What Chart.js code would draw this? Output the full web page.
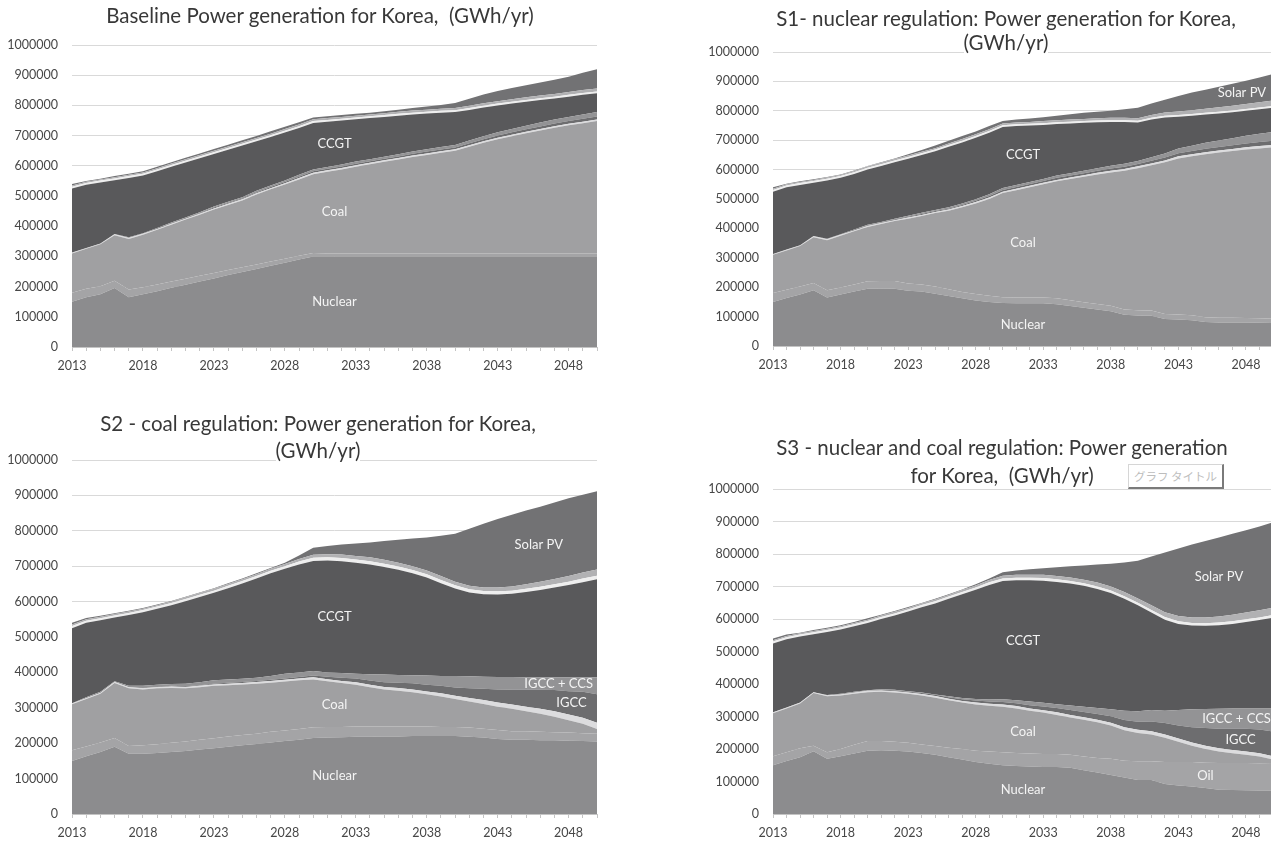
<!DOCTYPE html>
<html lang="en">
<head>
<meta charset="UTF-8">
<title>Power generation for Korea</title>
<script src="https://cdn.jsdelivr.net/npm/chart.js"></script>
<style>
  body { margin: 0; background: #fff; }
  #page { position: relative; width: 1271px; height: 846px; overflow: hidden; font-family: Lato, "Liberation Sans", sans-serif; }
  #page canvas { position: absolute; }
  .title { position: absolute; text-align: center; color: #383838; font-size: 20.5px; white-space: pre; }
  .title span { background: #fff; }
  .jp-box {
    position: absolute; left: 1128px; top: 464px; width: 96px; height: 25px; box-sizing: border-box;
    border: 1px solid #d6d6d6; border-right: 2px solid #7a7a7a; border-bottom: 2px solid #7a7a7a;
    background: #fff; color: #bdbdbd; font: 11.5px "Noto Sans CJK JP"; line-height: 22px; padding-left: 5px;
  }
</style>
</head>
<body>
<div id="page">
  <canvas id="chartBase" width="640" height="385" style="left:0;top:0"></canvas>
  <canvas id="chartS1" width="610" height="385" style="left:701px;top:0"></canvas>
  <canvas id="chartS2" width="640" height="446" style="left:0;top:400px"></canvas>
  <canvas id="chartS3" width="610" height="446" style="left:701px;top:400px"></canvas>

  <div class="title" style="left:0;width:640px;top:3px;line-height:24px">Baseline Power generation for Korea,  (GWh/yr)</div>
  <div class="title" style="left:701px;width:610px;top:6px;line-height:24px">S1- nuclear regulation: Power generation for Korea,
<span>(GWh/yr)</span></div>
  <div class="title" style="left:0;width:636px;top:410px;line-height:27px">S2 - coal regulation: Power generation for Korea,
<span>(GWh/yr)</span></div>
  <div class="title" style="left:701px;width:602px;top:433px;line-height:28px">S3 - nuclear and coal regulation: Power generation
for Korea,  (GWh/yr)</div>
  <div class="jp-box">グラフ タイトル</div>
</div>

<script>
// years on the category axis, and the ones that get a label
const years = ['2013','2014','2015','2016','2017','2018','2019','2020','2021','2022',
               '2023','2024','2025','2026','2027','2028','2029','2030','2031','2032',
               '2033','2034','2035','2036','2037','2038','2039','2040','2041','2042',
               '2043','2044','2045','2046','2047','2048','2049','2050'];
const yearLabels = ['2013','2018','2023','2028','2033','2038','2043','2048'];

// stacking order, bottom to top
const seriesNames = ['Nuclear','Oil','Coal','Other thermal','IGCC','IGCC + CCS','CCGT','Hydro','Wind','Solar PV'];
const seriesColors = ['#8c8c8e','#a4a4a6','#a0a0a2','#dcdcde','#6d6d6f','#939395','#59595b','#eeeeee','#b1b1b3','#727274'];

// Baseline (GWh/yr)
const baseNuclear = [150000,165000,175000,195000,165000,175000,185000,196000,206000,217000,227000,238000,248000,258000,269000,279000,290000,300000,300000,300000,300000,300000,300000,300000,300000,300000,300000,300000,300000,300000,300000,300000,300000,300000,300000,300000,300000,300000];
const baseOil = [30000,28000,26000,24000,25000,23000,22000,21000,20000,19000,18000,17000,16000,15000,14000,13000,12000,11000,10000,10000,10000,10000,10000,10000,10000,10000,10000,10000,10000,10000,10000,10000,10000,10000,10000,10000,10000,10000];
const baseCoal = [130000,132000,139000,151000,168000,174000,181000,188000,196000,202000,210000,215000,221000,232000,239000,246000,253000,261000,270000,278000,287000,295000,303000,311000,319000,326000,333000,340000,353000,366000,378000,388000,398000,407000,416000,424000,431000,438000];
const baseOther = [2000,2000,2000,3000,3000,3000,3000,3000,3000,3000,4000,4000,4000,4000,4000,4000,5000,5000,5000,5000,5000,5000,5000,5000,5000,5000,5000,5000,5000,5000,5000,5000,5000,5000,5000,5000,5000,5000];
const baseIgcc = [1000,1000,1000,1000,1000,1000,2000,2000,2000,2000,3000,3000,3000,3000,4000,4000,4000,5000,5000,5000,5000,5000,5000,5000,6000,6000,6000,6000,7000,7000,7000,8000,8000,8000,9000,9000,10000,10000];
const baseCcs = [0,0,0,0,1000,1000,1000,2000,2000,3000,3000,4000,4000,5000,5000,5000,6000,6000,6000,6000,7000,7000,7000,7000,7000,8000,8000,8000,9000,10000,11000,11000,12000,13000,13000,14000,14000,15000];
const baseCcgt = [212000,209000,202000,178000,197000,191000,188000,185000,182000,179000,174000,172000,171000,164000,160000,159000,155000,154000,150000,146000,140000,136000,132000,128000,123000,118000,114000,109000,101000,95000,89000,84000,79000,75000,70000,67000,65000,62000];
const baseHydro = [6000,6000,6000,6000,6000,6000,6000,6000,6000,6000,6000,6000,6000,6000,6000,6000,6000,6000,6000,6000,6000,6000,6000,6000,6000,6000,6000,6000,6000,6000,6000,6000,6000,6000,6000,6000,6000,6000];
const baseWind = [4000,4000,4000,4000,4000,4000,4000,5000,5000,5000,5000,5000,5000,5000,5000,6000,6000,6000,6000,6000,6000,6000,6000,7000,7000,7000,7000,7000,8000,8000,8000,8000,9000,9000,9000,9000,10000,10000];
const baseSolar = [5000,3000,2000,4000,4000,4000,5000,4000,5000,5000,6000,6000,7000,7000,8000,7000,7000,6000,6000,6000,6000,6000,7000,7000,8000,10000,12000,17000,23000,29000,34000,38000,40000,43000,47000,51000,57000,64000];

// S1 - nuclear regulation
const s1Nuclear = [150000,163000,175000,190000,165000,175000,185000,195000,196000,195000,188000,185000,178000,170000,162000,155000,150000,146000,145000,145000,145000,142000,136000,130000,124000,118000,106000,104000,103000,92000,90000,88000,82000,80000,80000,80000,79000,78000];
const s1Oil = [30000,28000,27000,24000,25000,24000,24000,25000,25000,26000,25000,24000,24000,23000,22000,22000,21000,20000,20000,20000,20000,20000,20000,19000,19000,19000,18000,18000,18000,17000,17000,17000,16000,16000,16000,15000,15000,15000];
const s1Coal = [130000,134000,138000,156000,170000,176000,181000,185000,194000,204000,220000,233000,250000,267000,288000,308000,329000,354000,365000,375000,385000,398000,412000,427000,440000,453000,472000,483000,494000,516000,531000,540000,554000,562000,567000,573000,578000,583000];
const s1Other = [2000,2000,2000,3000,3000,3000,3000,3000,3000,3000,4000,4000,4000,4000,4000,5000,5000,5000,5000,5000,5000,5000,5000,5000,6000,6000,6000,6000,6000,6000,7000,7000,7000,7000,7000,8000,8000,8000];
const s1Igcc = [1000,1000,1000,1000,1000,1000,2000,2000,2000,2000,3000,3000,3000,3000,4000,4000,5000,6000,6000,6000,6000,7000,7000,7000,7000,8000,8000,8000,9000,10000,11000,11000,12000,12000,13000,13000,14000,14000];
const s1Ccs = [0,0,0,0,1000,1000,1000,2000,2000,3000,3000,4000,4000,5000,5000,5000,6000,6000,7000,7000,7000,8000,8000,8000,9000,9000,10000,10000,12000,14000,16000,18000,20000,22000,24000,26000,28000,30000];
const s1Ccgt = [212000,212000,205000,181000,198000,192000,189000,188000,190000,192000,194000,197000,199000,206000,207000,209000,209000,208000,200000,192000,184000,175000,169000,163000,156000,149000,142000,131000,128000,122000,108000,102000,96000,92000,88000,85000,83000,82000];
const s1Hydro = [6000,6000,6000,6000,6000,6000,6000,6000,6000,6000,6000,6000,6000,6000,6000,6000,6000,6000,6000,6000,6000,6000,6000,6000,6000,6000,6000,6000,6000,6000,6000,6000,6000,6000,6000,6000,6000,6000];
const s1Wind = [4000,4000,4000,4000,4000,4000,4000,5000,5000,5000,5000,5000,5000,5000,6000,6000,6000,6000,6000,6000,7000,7000,7000,7000,8000,8000,8000,9000,10000,11000,12000,13000,14000,15000,16000,17000,18000,19000];
const s1Solar = [5000,2000,2000,2000,2000,1000,2000,1000,2000,2000,4000,6000,9000,9000,10000,10000,11000,8000,10000,12000,13000,15000,18000,21000,22000,24000,29000,35000,39000,44000,52000,60000,65000,70000,75000,79000,84000,90000];

// S2 - coal regulation
const s2Nuclear = [150000,163000,175000,190000,170000,170000,172000,175000,178000,182000,186000,190000,194000,198000,202000,206000,210000,215000,216000,217000,218000,218000,219000,219000,220000,220000,220000,220000,218000,216000,212000,210000,210000,208000,208000,207000,206000,205000];
const s2Oil = [30000,28000,27000,25000,22000,24000,25000,26000,27000,28000,28000,29000,29000,29000,30000,30000,30000,30000,30000,29000,29000,29000,28000,28000,27000,27000,26000,26000,26000,25000,25000,24000,24000,24000,23000,23000,22000,22000];
const s2Coal = [130000,134000,138000,155000,163000,158000,158000,155000,150000,148000,148000,145000,143000,141000,139000,138000,138000,135000,129000,124000,118000,111000,105000,101000,97000,91000,86000,79000,74000,70000,66000,63000,56000,51000,44000,35000,27000,13000];
const s2Other = [2000,2000,2000,3000,3000,3000,3000,4000,4000,4000,4000,4000,4000,5000,5000,5000,5000,6000,6000,6000,7000,7000,7000,8000,8000,8000,9000,9000,10000,11000,12000,12000,13000,14000,15000,16000,17000,18000];
const s2Igcc = [0,0,0,0,0,1000,1000,2000,2000,2000,2000,3000,3000,3000,3000,4000,4000,5000,7000,9000,11000,12000,13000,15000,17000,19000,21000,23000,27000,32000,37000,42000,48000,54000,60000,66000,73000,80000];
const s2Ccs = [1000,3000,3000,2000,4000,6000,6000,5000,7000,8000,10000,9000,9000,9000,11000,13000,13000,13000,12000,13000,13000,18000,22000,22000,23000,26000,28000,33000,34000,34000,35000,36000,35000,35000,36000,39000,41000,48000];
const s2Ccgt = [212000,210000,202000,180000,200000,208000,215000,223000,233000,241000,247000,258000,269000,280000,290000,297000,305000,311000,316000,316000,314000,310000,304000,297000,288000,277000,262000,247000,237000,233000,233000,235000,241000,247000,254000,261000,269000,277000];
const s2Hydro = [6000,6000,6000,6000,6000,6000,6000,6000,6000,6000,6000,7000,7000,7000,7000,7000,8000,9000,9000,9000,9000,9000,9000,9000,9000,9000,9000,9000,9000,9000,9000,9000,9000,9000,9000,9000,10000,10000];
const s2Wind = [4000,4000,4000,4000,4000,4000,4000,4000,5000,5000,5000,5000,5000,5000,6000,6000,7000,8000,9000,10000,10000,11000,11000,11000,11000,11000,11000,10000,10000,10000,11000,12000,13000,14000,15000,16000,17000,18000];
const s2Solar = [5000,4000,3000,2000,2000,2000,2000,2000,2000,2000,2000,2000,2000,3000,2000,4000,10000,20000,23000,28000,35000,42000,53000,65000,78000,93000,114000,136000,161000,180000,193000,202000,208000,212000,216000,220000,220000,221000];

// S3 - nuclear and coal regulation
const s3Nuclear = [150000,163000,175000,193000,170000,178000,186000,195000,196000,195000,192000,188000,182000,175000,168000,160000,155000,150000,148000,146000,145000,145000,142000,135000,128000,120000,112000,105000,105000,92000,88000,85000,80000,75000,74000,73000,72000,72000];
const s3Oil = [28000,27000,27000,17000,20000,22000,27000,30000,29000,27000,27000,26000,27000,29000,32000,35000,37000,40000,40000,40000,40000,40000,40000,42000,44000,50000,52000,57000,57000,68000,72000,75000,78000,82000,83000,84000,84000,85000];
const s3Coal = [132000,135000,138000,162000,172000,165000,157000,150000,151000,152000,151000,151000,149000,146000,143000,142000,141000,140000,137000,132000,127000,120000,115000,113000,110000,102000,94000,87000,83000,75000,62000,50000,42000,35000,30000,25000,21000,11000];
const s3Other = [2000,2000,2000,3000,3000,3000,3000,4000,4000,4000,4000,4000,5000,5000,5000,6000,6000,7000,7000,7000,7000,8000,8000,8000,8000,9000,9000,10000,10000,10000,10000,10000,10000,10000,10000,10000,10000,10000];
const s3Igcc = [0,0,0,0,0,1000,1000,1000,2000,2000,2000,3000,4000,4000,5000,6000,7000,8000,9000,10000,12000,13000,15000,16000,18000,20000,22000,25000,30000,35000,40000,47000,55000,60000,65000,70000,73000,76000];
const s3Ccs = [1000,1000,1000,0,1000,1000,2000,1000,2000,2000,2000,2000,1000,3000,4000,5000,6000,8000,9000,11000,11000,12000,14000,16000,18000,21000,29000,32000,35000,38000,48000,55000,58000,62000,63000,63000,65000,71000];
const s3Ccgt = [212000,210000,203000,178000,194000,198000,202000,207000,216000,229000,245000,262000,280000,300000,319000,336000,353000,364000,369000,373000,376000,376000,375000,372000,366000,358000,344000,326000,300000,280000,265000,258000,256000,257000,260000,266000,272000,279000];
const s3Hydro = [6000,6000,6000,6000,6000,6000,6000,6000,6000,6000,6000,7000,7000,7000,7000,7000,8000,8000,8000,8000,8000,8000,8000,8000,8000,8000,8000,8000,8000,8000,8000,8000,8000,8000,8000,8000,8000,8000];
const s3Wind = [4000,4000,4000,4000,4000,4000,4000,4000,5000,5000,5000,5000,5000,5000,6000,6000,7000,8000,9000,9000,10000,10000,11000,11000,12000,12000,13000,13000,14000,15000,16000,17000,18000,19000,20000,21000,22000,23000];
const s3Solar = [5000,4000,2000,3000,3000,3000,3000,4000,2000,3000,3000,1000,2000,2000,2000,4000,5000,11000,13000,17000,20000,27000,34000,44000,56000,70000,91000,116000,150000,184000,208000,224000,235000,243000,249000,253000,258000,263000];

Chart.defaults.font.family = 'Lato';

// writes the technology name in the middle of its band
const areaLabelPlugin = {
    id: 'areaLabels',
    afterDatasetsDraw(chart, args, opts) {
        const { ctx, chartArea, scales: { x, y } } = chart;
        const sets = chart.data.datasets.map(d => d.data);
        ctx.save();
        ctx.beginPath();
        ctx.rect(chartArea.left, chartArea.top, chartArea.width, chartArea.height);
        ctx.clip();
        ctx.fillStyle = '#f4f4f4';
        ctx.font = '13px Lato';
        ctx.textAlign = 'center';
        ctx.textBaseline = 'middle';
        opts.items.forEach(item => {
            const i0 = Math.floor(item.at), t = item.at - i0;
            const i1 = Math.min(i0 + 1, years.length - 1);
            const at = s => sets[s][i0] * (1 - t) + sets[s][i1] * t;
            let below = 0;
            for (let s = 0; s < item.series; s++) below += at(s);
            ctx.fillText(item.text, x.getPixelForValue(item.at), y.getPixelForValue(below + at(item.series) / 2));
        });
        ctx.restore();
    }
};

function makeChart(id, series, padding, labels) {
    return new Chart(document.getElementById(id), {
        type: 'line',
        data: {
            labels: years,
            datasets: series.map((values, i) => ({
                label: seriesNames[i],
                data: values,
                backgroundColor: seriesColors[i],
                borderColor: 'rgba(0,0,0,0)',
                borderWidth: 0,
                pointRadius: 0,
                tension: 0,
                fill: i === 0 ? 'origin' : '-1'
            }))
        },
        options: {
            responsive: false,
            animation: false,
            layout: { padding: padding },
            plugins: {
                legend: { display: false },
                tooltip: { enabled: false },
                areaLabels: { items: labels }
            },
            scales: {
                x: {
                    grid: { drawOnChartArea: false, drawTicks: true, tickLength: 4, color: '#c4c4c4' },
                    border: { color: '#c4c4c4' },
                    ticks: {
                        autoSkip: false, maxRotation: 0, padding: 7, color: '#474747',
                        font: { size: 12.5 },
                        callback: (v, i) => yearLabels.includes(years[i]) ? years[i] : ''
                    },
                    afterFit: s => { s.height = 30; }
                },
                y: {
                    stacked: true, min: 0, max: 1000000,
                    grid: { color: '#d9d9d9', drawTicks: false },
                    border: { display: false },
                    ticks: { stepSize: 100000, padding: 14, color: '#474747', font: { size: 12.5 }, callback: v => String(v) },
                    afterFit: s => { s.width = 72; }
                }
            }
        },
        plugins: [areaLabelPlugin]
    });
}

const mainLabels = [
    { text: 'Nuclear', series: 0, at: 18.5 },
    { text: 'Coal', series: 2, at: 18.5 },
    { text: 'CCGT', series: 6, at: 18.5 }
];

makeChart('chartBase',
    [baseNuclear, baseOil, baseCoal, baseOther, baseIgcc, baseCcs, baseCcgt, baseHydro, baseWind, baseSolar],
    { top: 45, right: 43, bottom: 8, left: 0 },
    mainLabels);

makeChart('chartS1',
    [s1Nuclear, s1Oil, s1Coal, s1Other, s1Igcc, s1Ccs, s1Ccgt, s1Hydro, s1Wind, s1Solar],
    { top: 52, right: 38, bottom: 9, left: 0 },
    mainLabels.concat([{ text: 'Solar PV', series: 9, at: 34.7 }]));

makeChart('chartS2',
    [s2Nuclear, s2Oil, s2Coal, s2Other, s2Igcc, s2Ccs, s2Ccgt, s2Hydro, s2Wind, s2Solar],
    { top: 60, right: 43, bottom: 2, left: 0 },
    mainLabels.concat([
        { text: 'Solar PV', series: 9, at: 32.9 },
        { text: 'IGCC + CCS', series: 5, at: 34.3 },
        { text: 'IGCC', series: 4, at: 35.2 }
    ]));

makeChart('chartS3',
    [s3Nuclear, s3Oil, s3Coal, s3Other, s3Igcc, s3Ccs, s3Ccgt, s3Hydro, s3Wind, s3Solar],
    { top: 89, right: 38, bottom: 2, left: 0 },
    mainLabels.concat([
        { text: 'Solar PV', series: 9, at: 33.0 },
        { text: 'IGCC + CCS', series: 5, at: 34.3 },
        { text: 'IGCC', series: 4, at: 34.6 },
        { text: 'Oil', series: 1, at: 32.0 }
    ]));
</script>
</body>
</html>
